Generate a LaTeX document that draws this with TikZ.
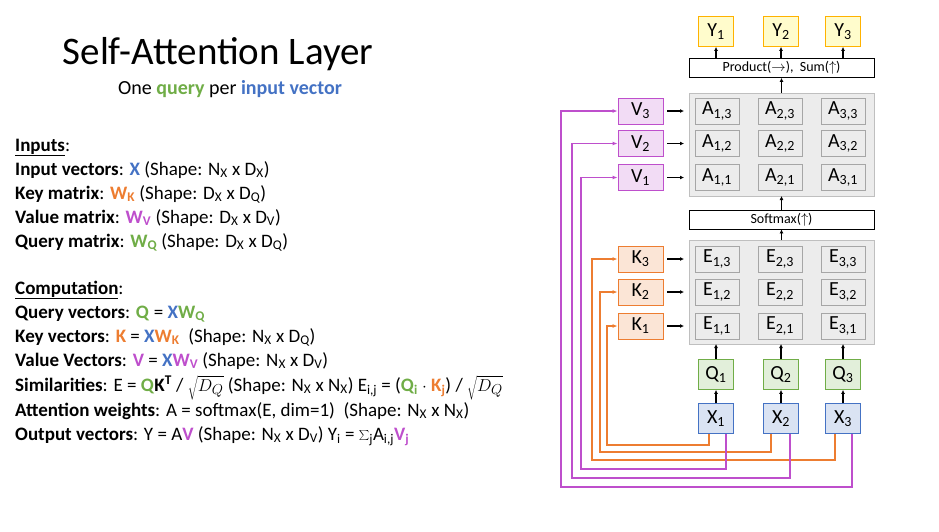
\documentclass[tikz,border=0pt]{standalone}
\usepackage{fontspec}
\setmainfont{Carlito}
\usetikzlibrary{arrows.meta}
\definecolor{cb}{HTML}{4472C4}
\definecolor{co}{HTML}{ED7D31}
\definecolor{cp}{HTML}{BE4FCC}
\definecolor{cg}{HTML}{70AD47}
\newcommand{\sbx}[1]{\textsubscript{#1}}
\newcommand{\cbf}[2]{\textcolor{#1}{\textbf{#2}}}
\begin{document}
\begin{tikzpicture}[x=1pt,y=-1pt,
  box/.style={draw,line width=0.8pt,minimum width=35pt,minimum height=30pt,font=\fontsize{20}{20}\selectfont,inner sep=0pt},
  yb/.style={box,fill=yellow!20,draw=orange!60!yellow},
  qb/.style={box,fill=cg!20,draw=cg},
  xb/.style={box,fill=cb!20,draw=cb},
  vb/.style={box,minimum width=45pt,minimum height=26pt,fill=cp!20,draw=cp},
  kb/.style={box,minimum width=45pt,minimum height=26pt,fill=co!20,draw=co},
  cell/.style={draw=gray!70,line width=0.8pt,fill=gray!15,minimum width=44pt,minimum height=26pt,inner sep=0pt,font=\fontsize{20}{20}\selectfont},
  panel/.style={draw=gray!50,fill=gray!15,line width=0.8pt},
  wide/.style={draw,line width=0.8pt,fill=white,minimum width=185pt,minimum height=19pt,inner sep=0pt,font=\fontsize{14}{14}\selectfont},
  ar/.style={-{Latex[length=4pt,width=4pt]},line width=1.2pt},
  ol/.style={co,line width=1.4pt,-{Latex[length=5pt,width=4pt]}},
  pl/.style={cp,line width=1.4pt,-{Latex[length=5pt,width=4pt]}},
  tx/.style={anchor=base west,inner sep=0pt,font=\fontsize{19}{21}\selectfont}
]
\useasboundingbox (0,0) rectangle (939,531);
% titles
\node[anchor=base,font=\fontsize{39}{39}\selectfont] (title) at (218,64) {Self-Attention Layer};
\node[anchor=base,font=\fontsize{20}{20}\selectfont] (sub) at (230,94) {One \cbf{cg}{query} per \cbf{cb}{input vector}};
% text
\node[tx] (t1) at (15,151) {\textbf{\underline{Inputs}}:};
\node[tx] (t2) at (15,175) {\textbf{Input vectors}: \cbf{cb}{X} (Shape: N\sbx{X} x D\sbx{X})};
\node[tx] (t3) at (15,199) {\textbf{Key matrix}: \cbf{co}{W\sbx{K}} (Shape: D\sbx{X} x D\sbx{Q})};
\node[tx] (t4) at (15,223) {\textbf{Value matrix}: \cbf{cp}{W\sbx{V}} (Shape: D\sbx{X} x D\sbx{V})};
\node[tx] (t5) at (15,247) {\textbf{Query matrix}: \cbf{cg}{W\sbx{Q}} (Shape: D\sbx{X} x D\sbx{Q})};
\node[tx] (t6) at (15,294) {\textbf{\underline{Computation}}:};
\node[tx] (t7) at (15,318) {\textbf{Query vectors}: \cbf{cg}{Q} = \cbf{cb}{X}\cbf{cg}{W\sbx{Q}}};
\node[tx] (t8) at (15,342) {\textbf{Key vectors}: \cbf{co}{K} = \cbf{cb}{X}\cbf{co}{W\sbx{K}}\ \ (Shape: N\sbx{X} x D\sbx{Q})};
\node[tx] (t9) at (15,366) {\textbf{Value Vectors}: \cbf{cp}{V} = \cbf{cb}{X}\cbf{cp}{W\sbx{V}} (Shape: N\sbx{X} x D\sbx{V})};
\node[tx] (t10) at (15,391) {\textbf{Similarities}: E = \cbf{cg}{Q}\textbf{K\textsuperscript{T}} / $\sqrt{D_Q}$ (Shape: N\sbx{X} x N\sbx{X}) E\sbx{i,j} = (\cbf{cg}{Q\sbx{i}} $\cdot$ \cbf{co}{K\sbx{j}}) / $\sqrt{D_Q}$};
\node[tx] (t11) at (15,416) {\textbf{Attention weights}: A = softmax(E, dim=1)\ \ (Shape: N\sbx{X} x N\sbx{X})};
\node[tx] (t12) at (15,440) {\textbf{Output vectors}: Y = A\cbf{cp}{V} (Shape: N\sbx{X} x D\sbx{V}) Y\sbx{i} = $\sum$\sbx{j}A\sbx{i,j}\cbf{cp}{V\sbx{j}}};
% diagram
\foreach \i/\x in {1/716,2/781,3/843}{
  \node[yb] (y\i) at (\x,31.5) {Y\sbx{\i}};
  \node[qb] (q\i) at (\x,374.5) {Q\sbx{\i}};
  \node[xb] (x\i) at (\x,418.5) {X\sbx{\i}};
}
\node[wide] (prod) at (781.5,68) {Product($\rightarrow$),\ \ Sum($\uparrow$)};
\node[wide] (soft) at (781.5,219.5) {Softmax($\uparrow$)};
\draw[panel] (689,93) rectangle (874,196);
\draw[panel] (689,240) rectangle (874,344);
\coordinate (pa) at (781.5,93);
\coordinate (pe) at (781.5,240);
\coordinate (pab) at (781.5,196);
\coordinate (peb) at (781.5,344);
\foreach \r/\yy in {3/111,2/143.5,1/177.5}{
  \node[vb] (v\r) at (640.5,\yy) {V\sbx{\r}};
  \coordinate (av\r) at (684,\yy);
  \foreach \c/\x in {1/717,2/780,3/843}{ \node[cell] (a\c\r) at (\x,\yy) {A\sbx{\c,\r}}; }
}
\foreach \r/\yy in {3/259,2/292,1/326}{
  \node[kb] (k\r) at (640.5,\yy) {K\sbx{\r}};
  \coordinate (ek\r) at (684,\yy);
  \foreach \c/\x in {1/717,2/780,3/843}{ \node[cell] (e\c\r) at (\x,\yy) {E\sbx{\c,\r}}; }
}
\foreach \r in {1,2,3}{
  \draw[ar] (v\r.east)++(4,0) -- (av\r);
  \draw[ar] (k\r.east)++(4,0) -- (ek\r);
}
\draw[ar] (prod.north -| y1) -- (y1);
\draw[ar] (prod.north -| y2) -- (y2);
\draw[ar] (prod.north -| y3) -- (y3);
\draw[ar] (pa) -- (prod);
\draw[ar] (soft) -- (pab);
\draw[ar] (pe) -- (soft);
\foreach \i in {1,2,3}{
  \draw[ar] (x\i) -- (q\i);
  \draw[ar] (q\i.north) -- (q\i.north |- peb);
}
% orange
\draw[ol] ([xshift=-7pt]x1.south) |- (607,445) |- (k1.west);
\draw[ol] ([xshift=-10pt]x2.south) |- (600,452) |- (k2.west);
\draw[ol] ([xshift=-8pt]x3.south) |- (592,460) |- (k3.west);
% purple
\draw[pl] ([xshift=10pt]x1.south) |- (581,469) |- (v1.west);
\draw[pl] ([xshift=9pt]x2.south) |- (572,478) |- (v2.west);
\draw[pl] ([xshift=9pt]x3.south) |- (561,487) |- (v3.west);
\end{tikzpicture}
\end{document}
